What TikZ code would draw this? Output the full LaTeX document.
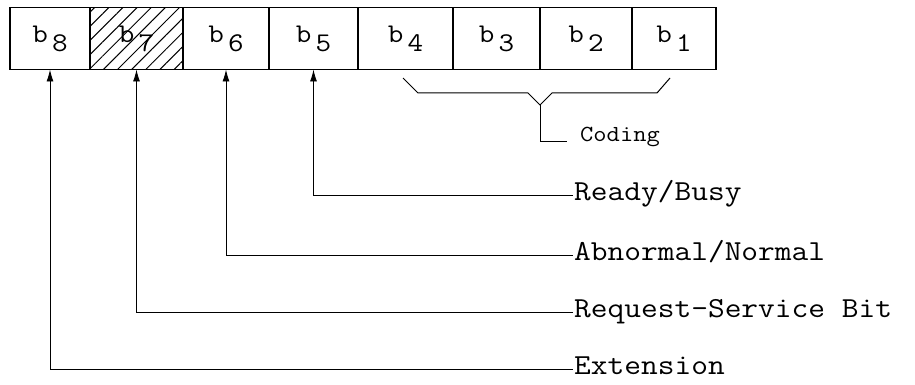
\documentclass[tikz,border=0pt]{standalone}
\usepackage{fontspec}
\setmonofont[FakeStretch=1.12]{Latin Modern Mono}
\usepackage{tikz}
\usetikzlibrary{positioning}
\usetikzlibrary{arrows.meta}
\usetikzlibrary{patterns.meta}

\tikzset{
  bitbox/.style={draw, line width=1.1pt, minimum height=62pt, inner sep=0pt,
    outer sep=0pt, font=\ttfamily\fontsize{27}{29}\selectfont},
  flag/.style={anchor=west, inner sep=1pt, text height=17pt, text depth=7pt,
    font=\ttfamily\fontsize{29}{31}\selectfont},
  pointer/.style={-{Latex[length=12pt,width=7pt]}, line width=0.9pt},
  hatched/.style={pattern={Lines[angle=45,distance=10pt,line width=1pt]}},
}
\newcommand{\bitname}[1]{b\hspace{4pt}\raisebox{-9pt}{#1}}

\begin{document}
\begin{tikzpicture}[x=1pt,y=-1pt]
        \useasboundingbox (0,0) rectangle (915,385);
        % the register
        \node[bitbox, minimum width=80pt] (b8) at (50,38.5) {\bitname{8}};
        \node[bitbox, hatched, minimum width=93pt, right=0pt of b8] (b7) {\bitname{7}};
        \node[bitbox, minimum width=86pt, right=0pt of b7] (b6) {\bitname{6}};
        \node[bitbox, minimum width=89pt, right=0pt of b6] (b5) {\bitname{5}};
        \node[bitbox, minimum width=95pt, right=0pt of b5] (b4) {\bitname{4}};
        \node[bitbox, minimum width=87pt, right=0pt of b4] (b3) {\bitname{3}};
        \node[bitbox, minimum width=92pt, right=0pt of b3] (b2) {\bitname{2}};
        \node[bitbox, minimum width=84pt, right=0pt of b2] (b1) {\bitname{1}};
        % brace under b4..b1
        \coordinate (tip) at (540,105);
        \draw[line width=1pt] (403,78)--(418,93)--(528,93)--(tip)--(552,93)--(657,93)--(670,78);
        \node[anchor=west, inner sep=0pt, font=\ttfamily\fontsize{23}{25}\selectfont] (coding) at (580,137) {Coding};
        \draw[line width=1pt] (tip) |- ([xshift=-13pt,yshift=-4pt]coding.west);
        % flags
        \node[flag] (ready) at (573,195) {Ready/Busy};
        \node[flag] (abn) at (573,255) {Abnormal/Normal};
        \node[flag] (rsb) at (573,312) {Request-Service Bit};
        \node[flag] (ext) at (573,369) {Extension};
        \draw[pointer] (ready.west) -| (b5.south);
        \draw[pointer] (abn.west) -| (b6.south);
        \draw[pointer] (rsb.west) -| (b7.south);
        \draw[pointer] (ext.west) -| (b8.south);
    \end{tikzpicture}
\end{document}
